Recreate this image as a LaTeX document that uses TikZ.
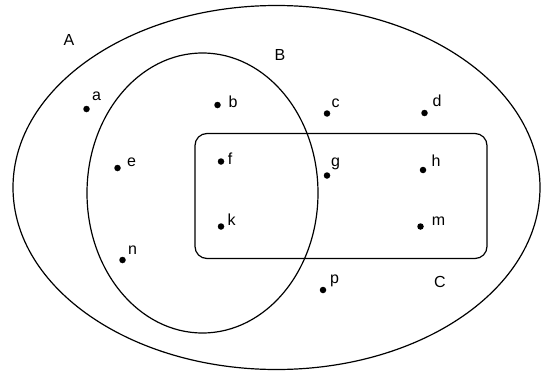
\documentclass[tikz,border=0pt]{standalone}
\usepackage{fontspec}
\setmainfont{Liberation Sans}
\usetikzlibrary{shapes.geometric}
\begin{document}
\begin{tikzpicture}[x=1pt,y=-1pt,
  setline/.style={draw=black,line width=1.2pt},
  elem/.style={circle,fill=black,inner sep=0pt,minimum size=6.5pt},
  lbl/.style={inner sep=0pt,font=\fontsize{16}{18}\selectfont},
  setlbl/.style={inner sep=0pt,font=\fontsize{16}{18}\selectfont}]
\useasboundingbox (0,0) rectangle (544,372);
% sets
\node[setline,ellipse,minimum width=527pt,minimum height=364pt,inner sep=0pt] (A) at (276.5,187.5) {};
\node[setline,ellipse,minimum width=231pt,minimum height=280pt,inner sep=0pt] (B) at (202.5,193) {};
\node[setline,rectangle,rounded corners=12pt,minimum width=292pt,minimum height=125pt,inner sep=0pt] (C) at (341,196) {};
% set labels
\node[setlbl] (lA) at (69,40) {A};
\node[setlbl] (lB) at (280,55) {B};
\node[setlbl] (lC) at (440,282) {C};
% elements
\node[elem] (a) at (86.5,109) {};
\node[elem] (b) at (217.5,105) {};
\node[elem] (c) at (327,113.5) {};
\node[elem] (d) at (424.5,113) {};
\node[elem] (e) at (117.5,168) {};
\node[elem] (f) at (221,161.5) {};
\node[elem] (g) at (327,175.5) {};
\node[elem] (h) at (423,170) {};
\node[elem] (k) at (221,226.5) {};
\node[elem] (m) at (420.5,226.5) {};
\node[elem] (n) at (122.5,260) {};
\node[elem] (p) at (323,290) {};
% element labels
\node[lbl] at (96.5,96) {a};
\node[lbl] at (233,102) {b};
\node[lbl] at (335.5,103) {c};
\node[lbl] at (437,101) {d};
\node[lbl] at (131.5,162) {e};
\node[lbl] at (230,159) {f};
\node[lbl] at (335.5,164) {g};
\node[lbl] at (436,160.5) {h};
\node[lbl] at (231.5,220) {k};
\node[lbl] at (438.5,221) {m};
\node[lbl] at (132.5,250) {n};
\node[lbl] at (334.5,281) {p};
\end{tikzpicture}
\end{document}
